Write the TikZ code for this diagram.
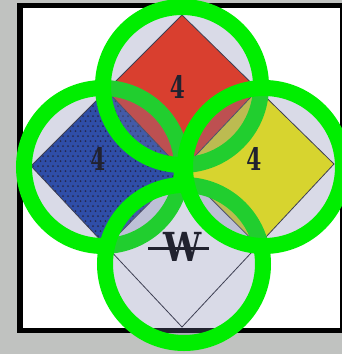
\documentclass[tikz,border=0pt]{standalone}
\usepackage{fontspec}
\usepackage{tikz}
\usetikzlibrary{calc}
\newfontfamily\signfont{DejaVu Serif}
\definecolor{hazred}{RGB}{255,40,0}
\definecolor{hazblue}{RGB}{20,60,168}
\definecolor{hazyellow}{RGB}{253,246,0}
\definecolor{dotnavy}{RGB}{5,10,45}
\definecolor{edgegray}{RGB}{40,40,50}
\definecolor{tint}{RGB}{120,125,170}
\definecolor{ringgreen}{RGB}{0,238,0}
\definecolor{bggray}{RGB}{192,194,192}

\begin{document}
\begin{tikzpicture}[x=1pt, y=-1pt,
    ring/.style={circle, draw=ringgreen, line width=16pt, fill=tint, fill opacity=0.28, draw opacity=1, minimum size=158pt, inner sep=0pt},
    part/.style={draw=edgegray, line width=0.8pt},
    num/.style={inner sep=0pt, font=\signfont\bfseries\fontsize{31}{31}\selectfont, xscale=0.7},
    water/.style={inner sep=0pt, font=\signfont\bfseries\fontsize{40}{40}\selectfont, xscale=0.85}]
    \useasboundingbox (0,0) rectangle (342,354);
    \fill[bggray] (0,0) rectangle (342,354);
    \draw[fill=white, line width=5.5pt] (20,5.5) rectangle (343,330.5);

    % corners of the diamond
    \coordinate (T) at (182,15);
    \coordinate (L) at (31,166);
    \coordinate (R) at (334,164);
    \coordinate (B) at (182,327);
    \coordinate (C) at (182,170);
    \coordinate (TL) at ($(T)!0.5!(L)$);
    \coordinate (TR) at ($(T)!0.5!(R)$);
    \coordinate (BL) at ($(B)!0.5!(L)$);
    \coordinate (BR) at ($(B)!0.5!(R)$);

    \fill[hazred] (T) -- (TR) -- (C) -- (TL) -- cycle;
    \fill[hazblue] (TL) -- (C) -- (BL) -- (L) -- cycle;
    \fill[hazyellow] (TR) -- (R) -- (BR) -- (C) -- cycle;
    \fill[white] (C) -- (BR) -- (B) -- (BL) -- cycle;
    \begin{scope}
        \clip (TL) -- (C) -- (BL) -- (L) -- cycle;
        \foreach \i in {0,...,32}
            \foreach \j in {0,...,34}
                \fill[dotnavy] ({28+5*\i+2.5*mod(\j,2)},{86+5*\j}) circle (1pt);
    \end{scope}
    \draw[part] (T) -- (R) -- (B) -- (L) -- cycle;
    \draw[part] (TL) -- (C) -- (BR) (TR) -- (C) -- (BL);

    \node[num] (fire) at (177.5,86.5) {4};
    \node[num] (health) at (98,158.5) {4};
    \node[num] (react) at (254,159) {4};
    \node[water] (nowater) at (182.5,247) {W};
    \draw[line width=3pt] ([xshift=-15pt,yshift=-1pt]nowater.west) -- ([xshift=7pt,yshift=-1pt]nowater.east);

    % circles over the four parts
    \node[ring] (cleft) at (103,167) {};
    \node[ring] (ctop) at (182,86) {};
    \node[ring] (cbottom) at (184,264) {};
    \node[ring] (cright) at (264,167) {};
\end{tikzpicture}
\end{document}
